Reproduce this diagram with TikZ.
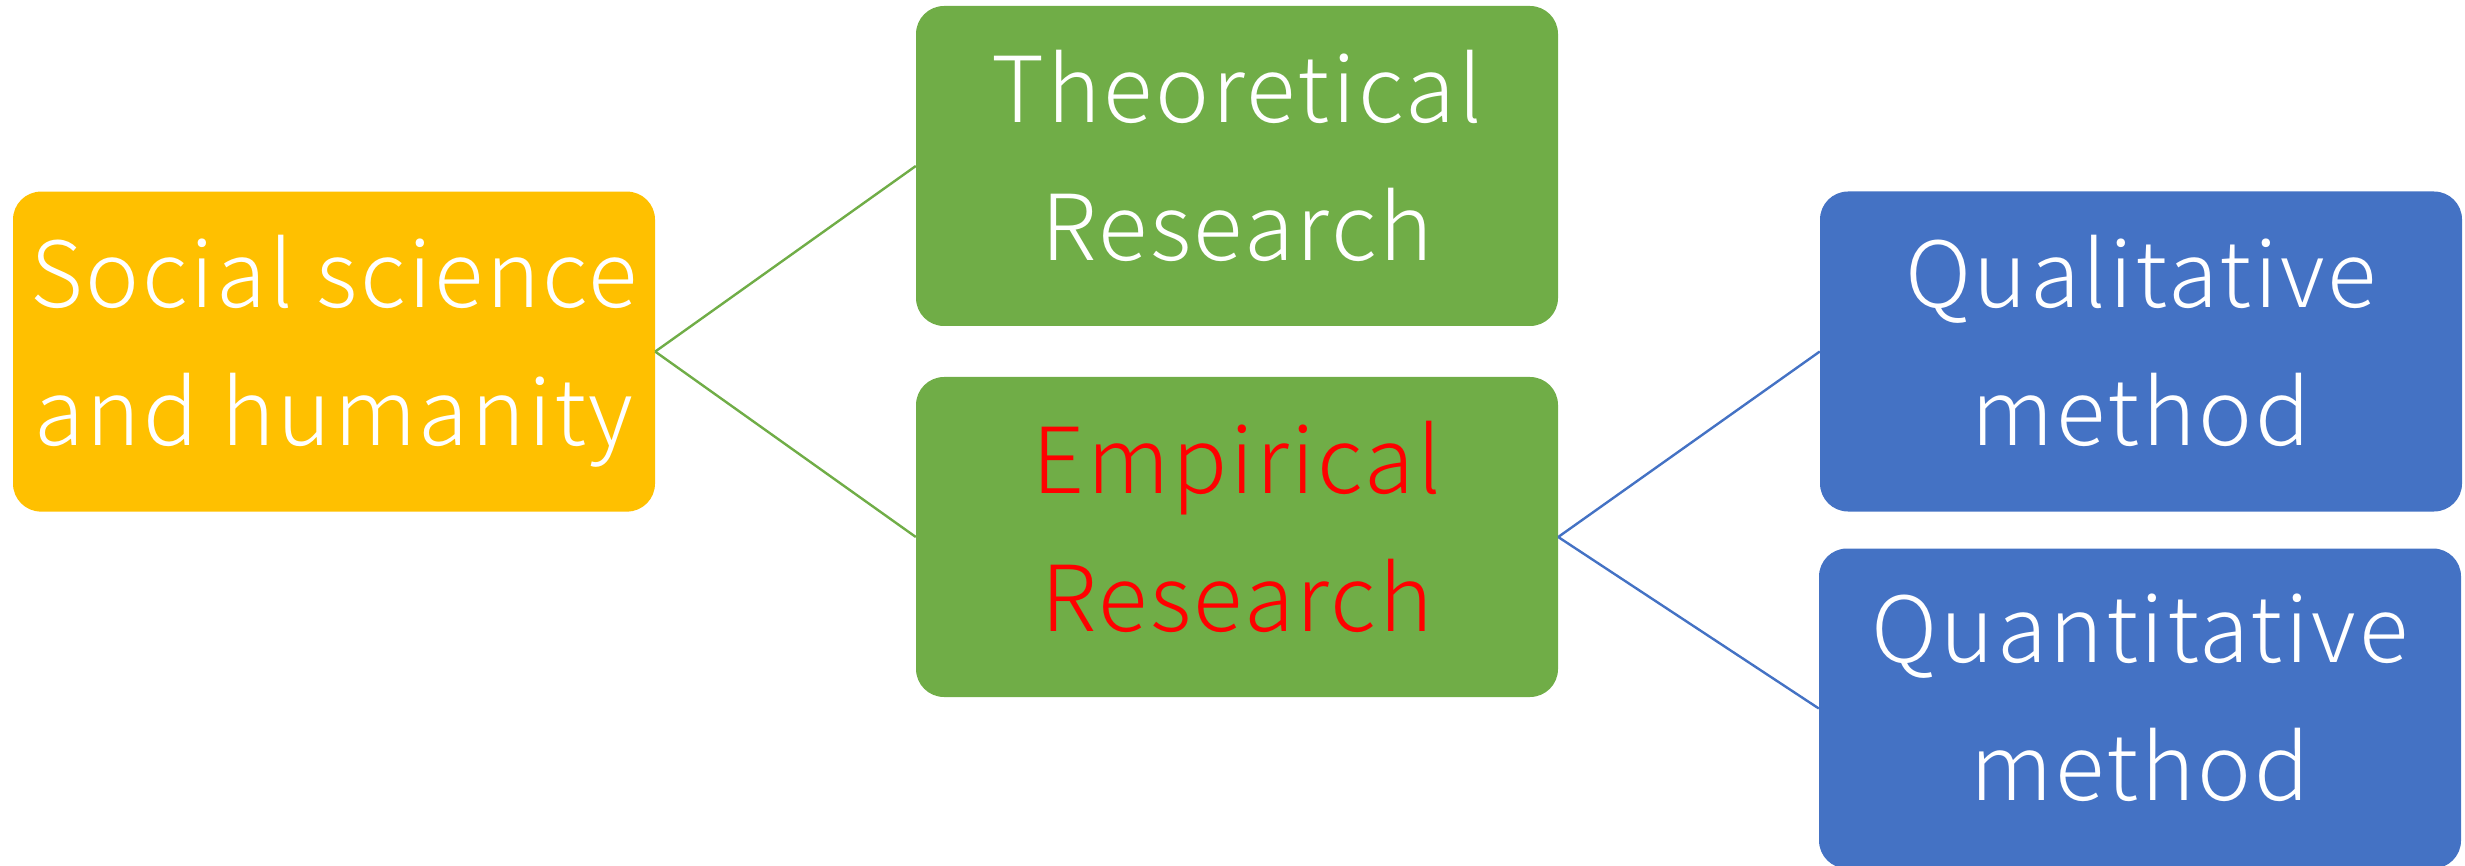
\documentclass[tikz,border=0pt]{standalone}
\usepackage{fontspec}
\setmainfont{Noto Sans CJK JP}[UprightFont=* Light, LetterSpace=3]
\definecolor{boxyellow}{HTML}{FFC000}
\definecolor{boxgreen}{HTML}{70AD47}
\definecolor{boxblue}{HTML}{4472C4}
\definecolor{textred}{HTML}{FF0000}
\begin{document}
\begin{tikzpicture}[x=1pt,y=-1pt,
  card/.style={rectangle, rounded corners=28pt, inner sep=0pt,
    minimum width=642pt, minimum height=320pt, align=center,
    text depth=22pt, text=white, font=\fontsize{91}{138}\selectfont},
  link/.style={line width=2.4pt}]
  \useasboundingbox (0,0) rectangle (2465,866);

  % root
  \node[card, fill=boxyellow] (soc) at (334,351.6) {Social science\\and humanity};

  % research types
  \node[card, fill=boxgreen] (theo) at (1237,166) {Theoretical\\Research};
  \node[card, fill=boxgreen, text=textred] (emp) at (1237,537) {Empirical\\Research};

  % methods
  \node[card, fill=boxblue] (qual) at (2141,351.5) {Qualitative\\method};
  \node[card, fill=boxblue] (quant) at (2140,708.5) {Quantitative\\method};

  % connectors
  \draw[link, boxgreen] (soc.east) -- (theo.west);
  \draw[link, boxgreen] (soc.east) -- (emp.west);
  \draw[link, boxblue] (emp.east) -- (qual.west);
  \draw[link, boxblue] (emp.east) -- (quant.west);
\end{tikzpicture}
\end{document}
